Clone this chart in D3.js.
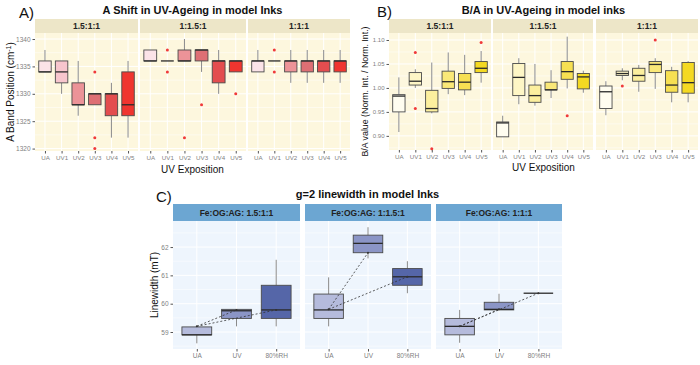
<!DOCTYPE html>
<html>
<head>
<meta charset="utf-8">
<script src="https://cdn.jsdelivr.net/npm/d3@7"></script>
<style>
  body { margin: 0; background: #fff; }
  text { font-family: "Liberation Sans", Arial, sans-serif; }
</style>
</head>
<body>
<script>
// ---- data ----
const uvCats = ['UA', 'UV1', 'UV2', 'UV3', 'UV4', 'UV5']
const inkRatios = ['1.5:1:1', '1:1.5:1', '1:1:1']

// boxplot rows: [lower whisker, q1, median, q3, upper whisker], one row per uvCats entry
const aBand_15 = [[1334, 1334, 1334, 1336, 1338], [1330, 1332, 1334, 1336, 1336], [1326, 1328, 1328, 1332, 1336],
                  [1328, 1328, 1330, 1330, 1330], [1322, 1326, 1330, 1330, 1332], [1322, 1326, 1328, 1334, 1336]]
const aBand_115 = [[1336, 1336, 1336, 1338, 1338], [1336, 1336, 1336, 1336, 1336], [1336, 1336, 1336, 1338, 1340],
                   [1334, 1336, 1338, 1338, 1338], [1330, 1332, 1336, 1336, 1338], [1334, 1334, 1336, 1336, 1336]]
const aBand_111 = [[1334, 1334, 1336, 1336, 1338], [1336, 1336, 1336, 1336, 1336], [1332, 1334, 1336, 1336, 1338],
                   [1332, 1334, 1336, 1336, 1338], [1332, 1334, 1336, 1336, 1338], [1332, 1334, 1336, 1336, 1338]]
// outliers: [category, value]
const aOut_15 = [['UV3', 1334], ['UV3', 1322], ['UV3', 1320]]
const aOut_115 = [['UV1', 1338], ['UV1', 1334], ['UV2', 1322], ['UV3', 1328], ['UV5', 1330]]
const aOut_111 = [['UV1', 1338], ['UV1', 1334]]

const bRatio_15 = [[0.908, 0.950, 0.983, 0.986, 1.022], [1.000, 1.006, 1.014, 1.032, 1.039], [0.947, 0.950, 0.957, 0.995, 1.053],
                   [0.987, 0.999, 1.013, 1.035, 1.074], [0.985, 0.996, 1.012, 1.030, 1.069], [1.011, 1.032, 1.041, 1.055, 1.077]]
const bRatio_115 = [[0.898, 0.898, 0.927, 0.929, 0.942], [0.966, 0.984, 1.022, 1.051, 1.062], [0.963, 0.970, 0.984, 1.006, 1.050],
                    [0.979, 0.996, 0.996, 1.012, 1.037], [0.999, 1.018, 1.034, 1.055, 1.107], [0.990, 0.998, 1.023, 1.030, 1.036]]
const bRatio_111 = [[0.943, 0.957, 0.992, 1.004, 1.014], [1.016, 1.026, 1.030, 1.035, 1.041], [0.992, 1.014, 1.026, 1.041, 1.048],
                    [0.998, 1.032, 1.049, 1.055, 1.062], [0.970, 0.991, 1.006, 1.036, 1.044], [0.970, 0.989, 1.011, 1.053, 1.056]]
const bOut_15 = [['UV1', 1.074], ['UV1', 0.957], ['UV2', 0.873], ['UV5', 1.095]]
const bOut_115 = [['UV4', 0.942]]
const bOut_111 = [['UV1', 1.004], ['UV3', 1.100]]

const cCats = ['UA', 'UV', '80%RH']
const cStrips = ['Fe:OG:AG: 1.5:1:1', 'Fe:OG:AG: 1:1.5:1', 'Fe:OG:AG: 1:1:1']
const cLw_15 = [[58.6, 58.9, 58.9, 59.18, 59.18], [59.2, 59.48, 59.75, 59.8, 59.8], [59.2, 59.48, 59.78, 60.65, 61.55]]
const cLw_115 = [[59.2, 59.48, 59.78, 60.34, 60.93], [61.6, 61.8, 62.13, 62.42, 62.7], [60.37, 60.65, 60.95, 61.24, 61.5]]
const cLw_111 = [[58.62, 58.9, 59.2, 59.48, 59.78], [59.78, 59.78, 59.8, 60.05, 60.35], [60.37, 60.37, 60.37, 60.37, 60.37]]
// points joined by the dashed lines (UA -> UV, UA -> 80%RH)
const cTrend_15 = [59.2, 59.78, 59.78]
const cTrend_115 = [59.8, 61.8, 60.95]
const cTrend_111 = [59.2, 59.8, 60.37]

const aTicks = [1320, 1325, 1330, 1335, 1340]
const bTicks = [0.90, 0.95, 1.00, 1.05, 1.10]
const cTicks = [59, 60, 61, 62]

// ---- styles ----
const redFills = ['#fbe3e8', '#f7c5cd', '#ec9398', '#de6f74', '#e34d4f', '#f0352f']
const yellowFills = ['#fffdf0', '#fef6c6', '#fcef9e', '#fae878', '#f7e052', '#f4d922']
const blueFills = ['#b5bbdc', '#8b95c6', '#5566a8']

const svg = d3.select('body')
  .append('svg')
    .attr('width', 700)
    .attr('height', 365)

function minorOf(ticks, domain) {
  const st = ticks[1] - ticks[0]
  const m = d3.range(-1, ticks.length).map((i) => ticks[0] + st * (i + 0.5))
  return m.filter((v) => v > domain[0] && v < domain[1])
}

function drawPanel(p) {
  const y = d3.scaleLinear().domain(p.domain).range([p.bottom, p.top])
  const minor = minorOf(p.ticks, p.domain)

  p.facets.forEach((f, fi) => {
    const x = d3.scalePoint().domain(p.cats).range([f.x0, f.x1]).padding(0.6)
    const bw = x.step() * 0.75
    const w = f.x1 - f.x0
    const g = svg.append('g')

    g.append('rect')
      .attr('x', f.x0).attr('y', p.top)
      .attr('width', w).attr('height', p.bottom - p.top)
      .attr('fill', p.bg)
    g.append('rect')
      .attr('x', f.x0).attr('y', p.top - p.stripH)
      .attr('width', w).attr('height', p.stripH)
      .attr('fill', p.stripBg)
    g.append('text')
      .attr('x', f.x0 + w / 2).attr('y', p.top - p.stripH / 2 + 3)
      .attr('text-anchor', 'middle')
      .attr('font-size', p.stripFont).attr('font-weight', 'bold')
      .attr('fill', '#222')
      .text(f.label)

    // grid
    g.selectAll('.minor').data(minor).join('line')
      .attr('x1', f.x0).attr('x2', f.x1)
      .attr('y1', (d) => y(d)).attr('y2', (d) => y(d))
      .attr('stroke', '#fff').attr('stroke-width', 0.5)
    g.selectAll('.major').data(p.ticks).join('line')
      .attr('x1', f.x0).attr('x2', f.x1)
      .attr('y1', (d) => y(d)).attr('y2', (d) => y(d))
      .attr('stroke', '#fff').attr('stroke-width', 1)
    g.selectAll('.vgrid').data(p.cats).join('line')
      .attr('x1', (d) => x(d)).attr('x2', (d) => x(d))
      .attr('y1', p.top).attr('y2', p.bottom)
      .attr('stroke', '#fff').attr('stroke-width', 1)

    // boxes
    p.cats.forEach((c, j) => {
      const s = f.stats[j]
      const cx = x(c)
      g.append('line')
        .attr('x1', cx).attr('x2', cx).attr('y1', y(s[0])).attr('y2', y(s[1]))
        .attr('stroke', '#8a8a8a').attr('stroke-width', 1)
      g.append('line')
        .attr('x1', cx).attr('x2', cx).attr('y1', y(s[3])).attr('y2', y(s[4]))
        .attr('stroke', '#8a8a8a').attr('stroke-width', 1)
      if (s[3] > s[1]) {
        g.append('rect')
          .attr('x', cx - bw / 2).attr('y', y(s[3]))
          .attr('width', bw).attr('height', y(s[1]) - y(s[3]))
          .attr('fill', p.fills[j])
          .attr('stroke', '#4a4a4a').attr('stroke-width', 0.9)
      }
      g.append('line')
        .attr('x1', cx - bw / 2).attr('x2', cx + bw / 2)
        .attr('y1', y(s[2])).attr('y2', y(s[2]))
        .attr('stroke', '#2a2a2a').attr('stroke-width', 1.3)
    })

    // outliers
    g.selectAll('.out').data(f.outliers || []).join('circle')
      .attr('cx', (d) => x(d[0])).attr('cy', (d) => y(d[1]))
      .attr('r', 1.5).attr('fill', '#f03a3a')

    // dashed trend lines
    if (f.trend) {
      [1, 2].forEach((k) => {
        g.append('line')
          .attr('x1', x(p.cats[0])).attr('y1', y(f.trend[0]))
          .attr('x2', x(p.cats[k])).attr('y2', y(f.trend[k]))
          .attr('stroke', '#333').attr('stroke-width', 0.8)
          .attr('stroke-dasharray', '2 2')
      })
      g.selectAll('.tp').data(f.trend).join('circle')
        .attr('cx', (d, k) => x(p.cats[k])).attr('cy', (d) => y(d))
        .attr('r', 1).attr('fill', '#333')
    }

    // x axis
    const ax = g.append('g')
      .attr('transform', 'translate(0,' + p.bottom + ')')
      .call(d3.axisBottom(x).tickSize(2.5).tickPadding(2))
    ax.select('.domain').remove()
    ax.selectAll('line').attr('stroke', '#555')
    ax.selectAll('text').attr('font-size', p.xTickFont).attr('fill', '#7f7f7f')
      .attr('font-family', '"Liberation Sans", Arial, sans-serif')

    // y axis on first facet
    if (fi === 0) {
      const ay = g.append('g')
        .attr('transform', 'translate(' + f.x0 + ',0)')
        .call(d3.axisLeft(y).tickValues(p.ticks).tickFormat(p.tickFmt).tickSize(2.5).tickPadding(2))
      ay.select('.domain').remove()
      ay.selectAll('line').attr('stroke', '#555')
      ay.selectAll('text').attr('font-size', p.yTickFont).attr('fill', '#7f7f7f')
        .attr('font-family', '"Liberation Sans", Arial, sans-serif')
    }
  })

  const x0 = p.facets[0].x0
  const x1 = p.facets[p.facets.length - 1].x1

  svg.append('text')
    .attr('x', (x0 + x1) / 2).attr('y', p.titleY)
    .attr('text-anchor', 'middle')
    .attr('font-size', 11).attr('font-weight', 'bold').attr('fill', '#111')
    .text(p.title)

  svg.append('text')
    .attr('x', p.letterX).attr('y', p.letterY)
    .attr('font-size', 15).attr('fill', '#111')
    .text(p.letter)

  if (p.xTitle) {
    svg.append('text')
      .attr('x', (x0 + x1) / 2).attr('y', p.xTitleY)
      .attr('text-anchor', 'middle')
      .attr('font-size', 10).attr('fill', '#111')
      .text(p.xTitle)
  }

  const yt = svg.append('text')
    .attr('transform', 'translate(' + p.yTitleX + ',' + (p.top + p.bottom) / 2 + ')rotate(-90)')
    .attr('text-anchor', 'middle')
    .attr('font-size', p.yTitleFont).attr('fill', '#111')
  p.yTitle(yt)
}

// A) band position
drawPanel({
  letter: 'A)', letterX: 19, letterY: 18,
  title: 'A Shift in UV-Ageing in model Inks', titleY: 14,
  xTitle: 'UV Exposition', xTitleY: 173,
  yTitleX: 14, yTitleFont: 10,
  yTitle: (t) => {
    t.append('tspan').text('A Band Position (cm')
    t.append('tspan').attr('dy', -3).attr('font-size', 7).text('-1')
    t.append('tspan').attr('dy', 3).text(')')
  },
  cats: uvCats, fills: redFills,
  top: 33, bottom: 151, stripH: 14, stripFont: 8.5,
  domain: [1319.56, 1341.1], ticks: aTicks, tickFmt: d3.format('d'), xTickFont: 6.2, yTickFont: 6.5,
  bg: '#fdf7de', stripBg: '#ede6c8',
  facets: [
    { x0: 35, x1: 138, label: inkRatios[0], stats: aBand_15, outliers: aOut_15 },
    { x0: 140, x1: 246, label: inkRatios[1], stats: aBand_115, outliers: aOut_115 },
    { x0: 248, x1: 350, label: inkRatios[2], stats: aBand_111, outliers: aOut_111 }
  ]
})

// B) B/A ratio
drawPanel({
  letter: 'B)', letterX: 377, letterY: 17,
  title: 'B/A in UV-Ageing in model inks', titleY: 14,
  xTitle: 'UV Exposition', xTitleY: 171,
  yTitleX: 368, yTitleFont: 8.8,
  yTitle: (t) => t.text('B/A value (Norm. Int. / Norm. Int.)'),
  cats: uvCats, fills: yellowFills,
  top: 33, bottom: 150, stripH: 14, stripFont: 8.5,
  domain: [0.8705, 1.1146], ticks: bTicks, tickFmt: d3.format('.2f'), xTickFont: 6.2, yTickFont: 6,
  bg: '#fdf7de', stripBg: '#ede6c8',
  facets: [
    { x0: 389, x1: 491, label: inkRatios[0], stats: bRatio_15, outliers: bOut_15 },
    { x0: 493, x1: 593, label: inkRatios[1], stats: bRatio_115, outliers: bOut_115 },
    { x0: 596, x1: 698, label: inkRatios[2], stats: bRatio_111, outliers: bOut_111 }
  ]
})

// C) linewidth
drawPanel({
  letter: 'C)', letterX: 156, letterY: 202,
  title: 'g=2 linewidth in model Inks', titleY: 198,
  yTitleX: 158, yTitleFont: 10,
  yTitle: (t) => t.text('Linewidth (mT)'),
  cats: cCats, fills: blueFills,
  top: 221, bottom: 349, stripH: 17, stripFont: 8.5,
  domain: [58.4, 62.92], ticks: cTicks, tickFmt: d3.format('d'), xTickFont: 6.5, yTickFont: 6.5,
  bg: '#eef5fd', stripBg: '#6ca6d2',
  facets: [
    { x0: 173, x1: 300, label: cStrips[0], stats: cLw_15, trend: cTrend_15 },
    { x0: 305, x1: 431, label: cStrips[1], stats: cLw_115, trend: cTrend_115 },
    { x0: 436, x1: 562, label: cStrips[2], stats: cLw_111, trend: cTrend_111 }
  ]
})
</script>
</body>
</html>
